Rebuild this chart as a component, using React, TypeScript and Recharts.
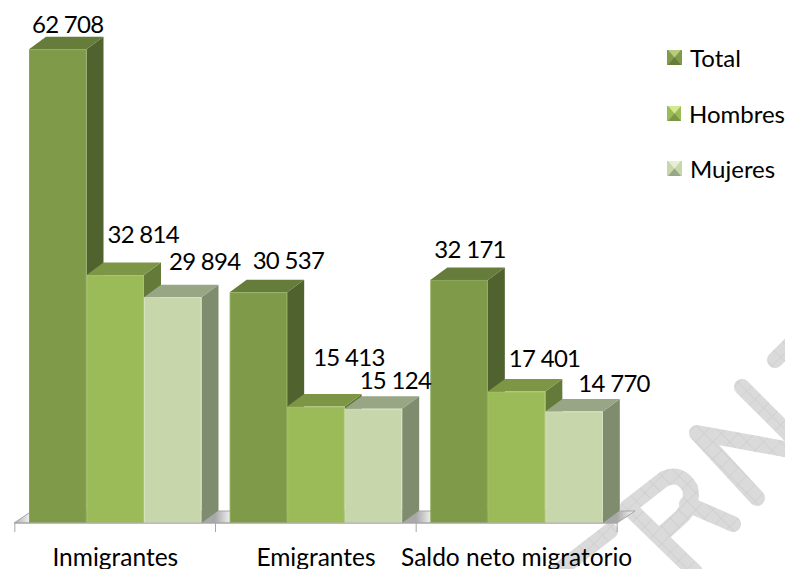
import { BarChart, Bar, XAxis, YAxis, Legend, LabelList, usePlotArea } from "recharts";

const categories = ["Inmigrantes", "Emigrantes", "Saldo neto migratorio"];
const total = [62708, 30537, 32171];
const hombres = [32814, 15413, 17401];
const mujeres = [29894, 15124, 14770];

const rows = categories.map((name, i) => ({
  name,
  total: total[i],
  hombres: hombres[i],
  mujeres: mujeres[i],
}));

const FONT = "Lato, Carlito, sans-serif";
const DEPTH_X = 17;
const DEPTH_Y = 12.5;

const palette = {
  total: { front: "#7f9b4a", top: "#657c3a", side: "#50622d", edge: "#8aa653", light: "#b5cc7c" },
  hombres: { front: "#9bbb59", top: "#7c9645", side: "#647a38", edge: "#a7c566", light: "#d4e88f" },
  mujeres: { front: "#c8d6ab", top: "#98a686", side: "#7f8c6d", edge: "#d6e2bd", light: "#e6efd2" },
};

// the labels in the picture sit at uneven distances from their bars
const totalNudge = [[10, -26], [30, -33], [11, -31]];
const hombresNudge = [[28, -42], [33, -50], [28, -34]];
const mujeresNudge = [[32, -37], [22, -29], [40, -29]];

function fmt(v: number) {
  return String(v).replace(/\B(?=(\d{3})+$)/g, " ");
}

function box3d(colors: typeof palette.total) {
  return (props: any) => {
    const { x, y, width, height } = props;
    const r = x + width;
    const b = y + height;
    return (
      <g>
        <polygon
          points={`${r},${y} ${r + DEPTH_X},${y - DEPTH_Y} ${r + DEPTH_X},${b - DEPTH_Y} ${r},${b}`}
          fill={colors.side}
        />
        <polygon
          points={`${x},${y} ${x + DEPTH_X},${y - DEPTH_Y} ${r + DEPTH_X},${y - DEPTH_Y} ${r},${y}`}
          fill={colors.top}
        />
        <rect x={x + 0.5} y={y + 0.5} width={width - 1} height={height - 1} fill={colors.front} stroke={colors.edge} />
      </g>
    );
  };
}

function label(nudge: number[][]) {
  return (props: any) => {
    const { x, y, width, value, index } = props;
    return (
      <text
        x={x + width / 2 + nudge[index][0]}
        y={y + nudge[index][1]}
        textAnchor="middle"
        dominantBaseline="central"
        fontFamily={FONT}
        fontSize={24}
        letterSpacing={-0.7}
        fill="#000"
      >
        {fmt(value)}
      </text>
    );
  };
}

function Floor() {
  const area = usePlotArea();
  if (!area) return null;
  const left = area.x - 1;
  const right = area.x + area.width;
  const b = area.y + area.height;
  return (
    <g>
      <defs>
        <linearGradient id="floorFill" gradientUnits="userSpaceOnUse" x1={left} x2={left + 201} y1={0} y2={0} spreadMethod="repeat">
          <stop offset="0" stopColor="#a8a8a8" />
          <stop offset="0.08" stopColor="#f4f4f4" />
          <stop offset="0.16" stopColor="#b4b4b4" />
          <stop offset="1" stopColor="#a8a8a8" />
        </linearGradient>
      </defs>
      <polygon
        points={`${left},${b} ${right},${b} ${right + 18},${b - 12} ${left + 18},${b - 12}`}
        fill="url(#floorFill)"
        stroke="#a6a6a6"
      />
    </g>
  );
}

function CategoryTick(props: any) {
  const { x, y, payload, index } = props;
  const half = 100.5;
  return (
    <g>
      <line x1={x - half} x2={x - half} y1={y - 9} y2={y} stroke="#a6a6a6" />
      {index === categories.length - 1 && <line x1={x + half} x2={x + half} y1={y - 9} y2={y} stroke="#a6a6a6" />}
      <text x={x} y={y + 24} textAnchor="middle" dominantBaseline="central" fontFamily={FONT} fontSize={24.5} fill="#000">
        {payload.value}
      </text>
    </g>
  );
}

function Swatch({ colors }: { colors: typeof palette.total }) {
  return (
    <svg width={15} height={15} style={{ display: "block" }}>
      <rect width={15} height={15} fill={colors.front} />
      <polygon points="1,0 14,0 7.5,7.5" fill={colors.light} />
      <polygon points="1,15 14,15 7.5,7.5" fill={colors.top} />
    </svg>
  );
}

function LegendBlock({ payload }: any) {
  return (
    <div style={{ fontFamily: FONT, fontSize: 24, color: "#000" }}>
      {(payload || []).map((item: any) => (
        <div key={item.dataKey} style={{ display: "flex", alignItems: "center", height: 55.5, gap: 8 }}>
          <Swatch colors={(palette as any)[item.dataKey]} />
          <span>{item.value}</span>
        </div>
      ))}
    </div>
  );
}

// grey lettering behind the chart, only partly visible in the picture
function Watermark() {
  const strokes = [
    "M610 531 L553 575",
    "M628 507 L695 572",
    "M628 507 L664 479 Q680 471 690 488 Q694 505 680 518 L660 536",
    "M687 504 L733 524",
    "M757 498 L697 433 L790 450",
    "M742 387 L800 445",
    "M775 360 L790 345",
  ];
  return (
    <svg width={785} height={569} style={{ position: "absolute", left: 0, top: 0 }}>
      <defs>
        <pattern id="hatch" width={12} height={12} patternUnits="userSpaceOnUse" patternTransform="rotate(45)">
          <rect width={12} height={12} fill="#dadada" />
          <path d="M0 0 H12 M0 0 V12" stroke="#c9c9c9" />
        </pattern>
      </defs>
      {strokes.map((d) => (
        <path key={d} d={d} fill="none" stroke="url(#hatch)" strokeWidth={16} strokeLinejoin="round" strokeLinecap="round" />
      ))}
    </svg>
  );
}

export default function App() {
  return (
    <div style={{ position: "fixed", left: 0, top: 0, width: 785, height: 569, background: "#fff", overflow: "hidden" }}>
      <Watermark />
      <BarChart
        width={785}
        height={569}
        data={rows}
        margin={{ top: 47, right: 168, bottom: 0, left: 15 }}
        barSize={57.5}
        barGap={0}
        style={{ position: "absolute", left: 0, top: 0 }}
      >
        <Floor />
        <XAxis dataKey="name" height={46} interval={0} tickLine={false} stroke="#a6a6a6" tick={<CategoryTick />} tickMargin={0} tickSize={9} />
        <YAxis domain={[0, 63000]} width={0} tick={false} tickLine={false} stroke="#a6a6a6" />
        <Legend
          layout="vertical"
          align="center"
          verticalAlign="middle"
          itemSorter={null}
          content={<LegendBlock />}
          wrapperStyle={{ left: 667, top: 30, width: 118 }}
        />
        <Bar dataKey="total" name="Total" fill={palette.total.front} shape={box3d(palette.total)} isAnimationActive={false}>
          <LabelList dataKey="total" content={label(totalNudge)} />
        </Bar>
        <Bar dataKey="hombres" name="Hombres" fill={palette.hombres.front} shape={box3d(palette.hombres)} isAnimationActive={false}>
          <LabelList dataKey="hombres" content={label(hombresNudge)} />
        </Bar>
        <Bar dataKey="mujeres" name="Mujeres" fill={palette.mujeres.front} shape={box3d(palette.mujeres)} isAnimationActive={false}>
          <LabelList dataKey="mujeres" content={label(mujeresNudge)} />
        </Bar>
      </BarChart>
    </div>
  );
}
